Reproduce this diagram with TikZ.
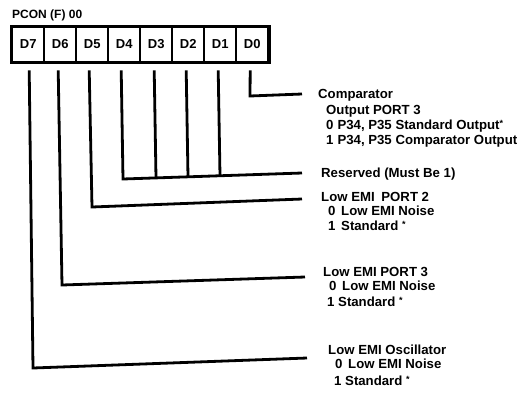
\documentclass[tikz,border=0pt]{standalone}
\usepackage{fontspec}
\setmainfont{Liberation Sans}
\usetikzlibrary{fit}
\newcommand{\myast}{{\fontsize{9}{9}\selectfont\raisebox{2.5pt}{*}}}
\begin{document}
\begin{tikzpicture}[x=1pt,y=-1pt,
  cell/.style={draw, line width=2.4pt, minimum width=32pt, minimum height=34.5pt,
    inner sep=0pt, anchor=north west, font=\bfseries\fontsize{13}{14}\selectfont},
  frame/.style={draw, line width=2.4pt, inner sep=0pt},
  wire/.style={line width=2.8pt, line join=miter},
  lbl/.style={anchor=base west, inner sep=0pt, font=\bfseries\fontsize{13.2}{15}\selectfont},
  title/.style={anchor=base west, inner sep=0pt, font=\bfseries\fontsize{12}{14}\selectfont}]
\useasboundingbox (0,0) rectangle (529,400);

\node[title] (pcon) at (12,18) {PCON (F) 00};

\node[cell] (c7) at (11,26) {D7};
\node[cell] (c6) at (43,26) {D6};
\node[cell] (c5) at (75,26) {D5};
\node[cell] (c4) at (107,26) {D4};
\node[cell] (c3) at (139,26) {D3};
\node[cell] (c2) at (171,26) {D2};
\node[cell] (c1) at (203,26) {D1};
\node[cell] (c0) at (235,26) {D0};
\node[frame, fit=(c7)(c0)] (reg) {};

% labels
\node[lbl] (cmp1) at (318,98) {Comparator};
\node[lbl] (cmp2) at (326,114) {Output PORT 3};
\node[lbl] (cmp3) at (326,129) {0\hspace{4pt}P34, P35 Standard Output\myast};
\node[lbl] (cmp4) at (326,144) {1\hspace{4pt}P34, P35 Comparator Output};

\node[lbl] (res) at (321,177) {Reserved (Must Be 1)};

\node[lbl] (p2a) at (321,201) {Low EMI\hspace{3pt} PORT 2};
\node[lbl] (p2b) at (328,215) {0\hspace{2pt} Low EMI Noise};
\node[lbl] (p2c) at (328,230) {1\hspace{2pt} Standard \myast};

\node[lbl] (p3a) at (323,276) {Low EMI PORT 3};
\node[lbl] (p3b) at (329,290) {0\hspace{2pt} Low EMI Noise};
\node[lbl] (p3c) at (327,306) {1 Standard \myast};

\node[lbl] (osa) at (328,354) {Low EMI Oscillator};
\node[lbl] (osb) at (335,368) {0\hspace{2pt} Low EMI Noise};
\node[lbl] (osc) at (334,385) {1 Standard \myast};

% wire corner and end points
\coordinate (k0) at (250,96);  \coordinate (e0) at (302,94);
\coordinate (k4) at (123,179); \coordinate (e4) at (302,173);
\coordinate (b1) at (220,176); \coordinate (b2) at (188,177); \coordinate (b3) at (156,178);
\coordinate (k5) at (92,207);  \coordinate (e5) at (302,199);
\coordinate (k6) at (62,285);  \coordinate (e6) at (305,277);
\coordinate (k7) at (33,368);  \coordinate (e7) at (307,358);

\draw[wire] ([xshift=-2pt,yshift=-7.5pt]c0.south) -- (k0) -- (e0);
\draw[wire] ([xshift=-2pt,yshift=-7.5pt]c1.south) -- (b1);
\draw[wire] ([xshift=-2pt,yshift=-7.5pt]c2.south) -- (b2);
\draw[wire] ([xshift=-2pt,yshift=-7.5pt]c3.south) -- (b3);
\draw[wire] ([xshift=-3pt,yshift=-7.5pt]c4.south) -- (k4) -- (e4);
\draw[wire] ([xshift=-3pt,yshift=-7.5pt]c5.south) -- (k5) -- (e5);
\draw[wire] ([xshift=-2pt,yshift=-7.5pt]c6.south) -- (k6) -- (e6);
\draw[wire] ([xshift=1pt,yshift=-7.5pt]c7.south) -- (k7) -- (e7);
\end{tikzpicture}
\end{document}
